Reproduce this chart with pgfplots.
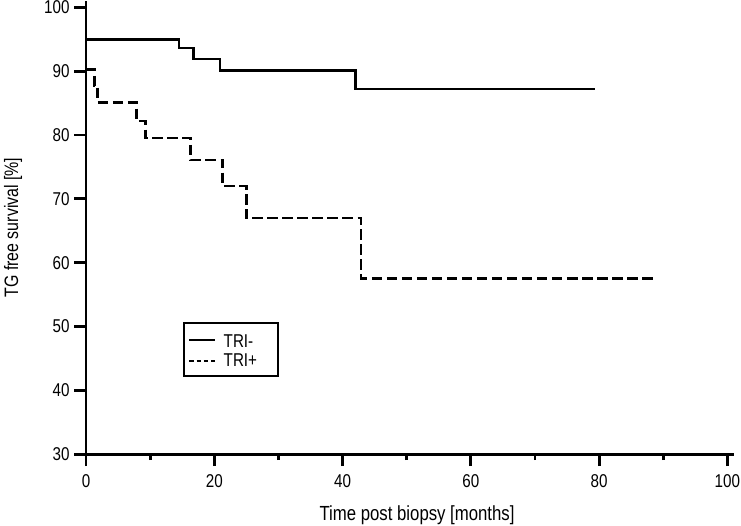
\documentclass[border=0pt]{standalone}
\usepackage{fontspec}
\setmainfont{Liberation Sans}[FakeStretch=0.82]
\usepackage{pgfplots}
\pgfplotsset{compat=1.18}
\begin{document}
\begin{tikzpicture}
\begin{axis}[
  scale only axis,
  width=647.4bp, height=453.1bp,
  xmin=0, xmax=101, ymin=30, ymax=101,
  axis x line=bottom, axis y line=left,
  axis line style={line width=2.8bp,-},
  xtick={0,20,...,100}, minor xtick={10,30,...,90},
  ytick={30,40,...,100},
  tick align=outside,
  major tick length=12bp, minor tick length=6bp,
  every tick/.style={black,line width=2.8bp},
  tick label style={font=\fontsize{18.6}{21}\selectfont},
  xticklabel style={yshift=-5bp},
  yticklabel style={xshift=-1bp},
  /pgf/number format/assume math mode=true,
  xlabel={Time post biopsy [months]},
  ylabel={TG free survival [\%]},
  xlabel style={font=\fontsize{20.5}{23}\selectfont, at={(axis description cs:0.511,0)}, anchor=center, yshift=-61bp},
  ylabel style={font=\fontsize{19.5}{22}\selectfont, at={(axis description cs:0,0.5)}, anchor=center, yshift=73bp},
  legend style={at={(axis cs:15.1,50.7)}, anchor=north west, draw=black,
    line width=2bp, font=\fontsize{18.6}{21}\selectfont,
    inner xsep=4.5bp, inner ysep=5.5bp, row sep=0bp, column sep=5bp,
    nodes={inner sep=2.3bp}},
  legend cell align=left,
]
\addplot[const plot, black, line width=2.6bp,
  legend image code/.code={\draw[black,line width=2bp] (0bp,0bp) -- (26bp,0bp);}] coordinates {
  (0,95.0) (14.5,93.6) (16.8,91.9) (20.9,90.1) (42.0,87.2) (79.4,87.2)
};
\addlegendentry{\rule{0pt}{17bp}TRI-\hspace*{14bp}}
\addplot[const plot, black, line width=2.6bp, dash pattern=on 10.5bp off 4.5bp,
  legend image code/.code={\draw[black,line width=2bp,dash pattern=on 4.5bp off 2.7bp] (0bp,0bp) -- (26bp,0bp);}] coordinates {
  (0,90.3) (1.3,87.7) (1.8,85.1) (7.9,82.2) (9.3,79.5) (16.3,76.1)
  (21.3,72.0) (25.0,67.0) (42.9,57.5) (88.8,57.5)
};
\addlegendentry{TRI+\hspace*{14bp}}
\end{axis}
\pgfresetboundingbox
\path ([shift={(-86bp,-71bp)}]current axis.south west) rectangle ([shift={(7.2bp,0.9bp)}]current axis.north east);
\end{tikzpicture}
\end{document}
